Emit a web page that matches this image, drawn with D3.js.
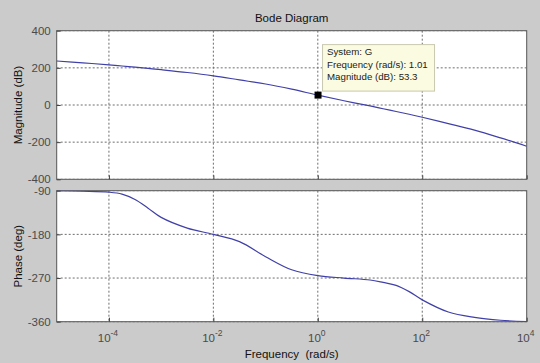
<!DOCTYPE html>
<html><head><meta charset="utf-8">
<script src="https://cdn.jsdelivr.net/npm/d3@7"></script>
<style>
html,body{margin:0;padding:0;background:#cbcbcb;}
svg{display:block;font-family:"Liberation Sans",Arial,sans-serif;}
</style></head>
<body>
<script>
// ---- data ----
const freq = [1e-5, 3.16e-5, 1e-4, 1.78e-4, 3.16e-4, 5.62e-4, 1e-3, 3.16e-3, 1e-2, 3.16e-2, 1e-1, 3.16e-1, 1, 3.16, 10, 17.8, 31.6, 56.2, 100, 316, 1000, 3160, 10000];
const magnitude = [237, 227, 216, 210, 204, 197, 190, 175, 157, 135, 113, 85, 53, 23, -5, -20, -35, -50, -66, -100, -135, -177, -222];
const phase = [-90, -91, -93, -97, -108, -126, -145, -167, -180, -195, -226, -253, -265, -270, -274, -279, -285, -298, -315, -340, -351, -357, -360];
const magTicks = [400, 200, 0, -200, -400];
const phaseTicks = [-90, -180, -270, -360];
const freqTicks = [1e-4, 1e-2, 1, 1e2, 1e4];
const tipSystem = "G";
const tipFreq = 1.01;
const tipMag = 53.3;

// ---- layout ----
const W = 540, H = 363;
const L = 56.7, R = 526.7;
const magTop = 30.7, magBot = 179.3;
const phTop = 190.7, phBot = 321.7;

const svg = d3.select("body").append("svg").attr("width", W).attr("height", H);
svg.append("rect").attr("width", W).attr("height", H).attr("fill", "#cbcbcb");

const x = d3.scaleLog().domain([1e-5, 1e4]).range([L, R]);
const yMag = d3.scaleLinear().domain([-400, 400]).range([magBot, magTop]);
const yPh = d3.scaleLinear().domain([-360, -90]).range([phBot, phTop]);

const gridCol = "#6e6e6e", lineCol = "#4040a8", tickCol = "#4a4a4a";

function panel(y, yTicks, values, top, bot, id) {
  const g = svg.append("g");
  g.append("rect").attr("x", L).attr("y", top).attr("width", R - L).attr("height", bot - top).attr("fill", "#fff");
  g.append("rect").attr("x", L).attr("y", top).attr("width", R - L).attr("height", bot - top)
    .attr("fill", "none").attr("stroke", "#555").attr("stroke-width", 1);
  // grid
  g.selectAll(".gx").data(freqTicks.filter(d => d > 1e-5 && d < 1e4)).join("line")
    .attr("x1", d => x(d)).attr("x2", d => x(d)).attr("y1", top).attr("y2", bot)
    .attr("stroke", gridCol).attr("stroke-dasharray", "2,2").attr("stroke-width", 1);
  g.selectAll(".gy").data(yTicks).join("line")
    .attr("x1", L).attr("x2", R).attr("y1", d => y(d)).attr("y2", d => y(d))
    .attr("stroke", gridCol).attr("stroke-dasharray", "2,2").attr("stroke-width", 1);
  // clip
  svg.append("clipPath").attr("id", id).append("rect").attr("x", L).attr("y", top).attr("width", R - L).attr("height", bot - top);
  const line = d3.line().x((d, i) => x(freq[i])).y(d => y(d)).curve(d3.curveCatmullRom.alpha(0.5));
  g.append("path").attr("d", line(values)).attr("fill", "none").attr("stroke", lineCol)
    .attr("stroke-width", 1.2).attr("clip-path", `url(#${id})`);
  // axes
  const ay = d3.axisLeft(y).tickValues(yTicks).tickSize(-4).tickPadding(6).tickFormat(d => String(d));
  const gy = g.append("g").attr("transform", `translate(${L},0)`).call(ay);
  gy.select(".domain").remove();
  gy.selectAll("line").attr("stroke", "#444");
  gy.selectAll("text").attr("fill", tickCol).style("font-size", "11.5px").attr("font-family", "Liberation Sans, Arial, sans-serif");
  const ax = d3.axisBottom(x).tickValues(freqTicks).tickSize(-4).tickFormat("");
  const gx = g.append("g").attr("transform", `translate(0,${bot})`).call(ax);
  gx.select(".domain").remove();
  gx.selectAll("line").attr("stroke", "#444");
  return g;
}

panel(yMag, magTicks, magnitude, magTop, magBot, "cm");
panel(yPh, phaseTicks, phase, phTop, phBot, "cp");

// x tick labels with superscripts
const lab = svg.append("g");
freqTicks.forEach(f => {
  const e = Math.round(Math.log10(f));
  const t = lab.append("text").attr("x", x(f) - 1).attr("y", 342).attr("text-anchor", "middle")
    .attr("fill", tickCol).style("font-size", "11.5px");
  t.append("tspan").text("10");
  t.append("tspan").attr("dy", -6).style("font-size", "8.5px").text(String(e));
});

// titles
svg.append("text").attr("x", (L + R) / 2).attr("y", 22).attr("text-anchor", "middle")
  .style("font-size", "11.5px").attr("fill", "#111").text("Bode Diagram");
svg.append("text").attr("transform", `translate(22,${(magTop + magBot) / 2}) rotate(-90)`)
  .attr("text-anchor", "middle").style("font-size", "11.5px").attr("fill", "#111").text("Magnitude (dB)");
svg.append("text").attr("transform", `translate(22,${(phTop + phBot) / 2}) rotate(-90)`)
  .attr("text-anchor", "middle").style("font-size", "11.5px").attr("fill", "#111").text("Phase (deg)");
svg.append("text").attr("x", (L + R) / 2).attr("y", 358).attr("text-anchor", "middle")
  .style("font-size", "11.5px").style("white-space", "pre").attr("fill", "#111").text("Frequency  (rad/s)");

// data tip
const mx = x(tipFreq), my = yMag(tipMag);
svg.append("rect").attr("x", mx + 4.5).attr("y", my - 50.5).attr("width", 112).attr("height", 46.5)
  .attr("fill", "#fbfbe1").attr("stroke", "#c9c9b0").attr("stroke-width", 1);
const tip = svg.append("text").attr("x", mx + 9).attr("y", my - 40).style("font-size", "9.7px").attr("fill", "#222");
tip.append("tspan").attr("x", mx + 9).attr("dy", 0).text("System: " + tipSystem);
tip.append("tspan").attr("x", mx + 9).attr("dy", 12.7).text("Frequency (rad/s): " + tipFreq.toFixed(2));
tip.append("tspan").attr("x", mx + 9).attr("dy", 12.7).text("Magnitude (dB): " + tipMag.toFixed(1));
svg.append("rect").attr("x", mx - 3.5).attr("y", my - 3.5).attr("width", 7).attr("height", 7).attr("fill", "#000");
</script>
</body></html>
